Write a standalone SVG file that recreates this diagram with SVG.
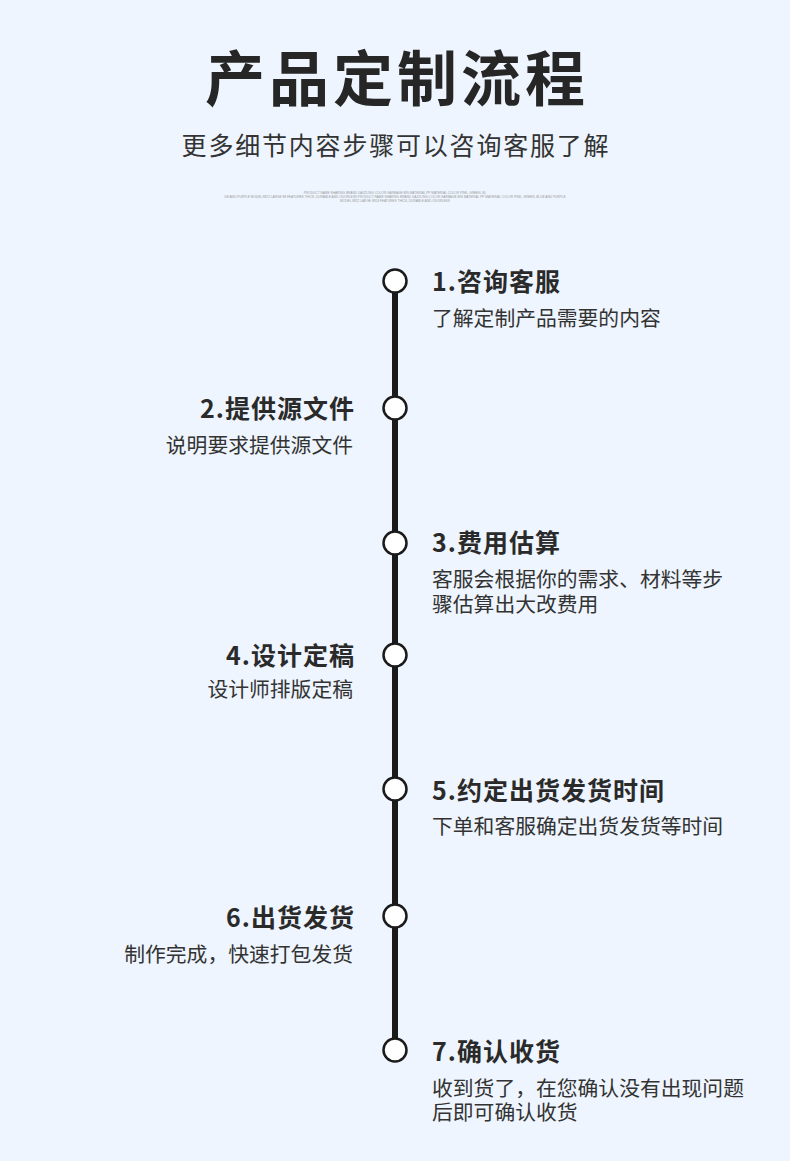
<svg xmlns="http://www.w3.org/2000/svg" width="790" height="1161" viewBox="0 0 790 1161">
<style>
.bg{fill:#eef5fe}
.title{font-family:"Noto Sans CJK SC","Noto Sans",sans-serif;font-weight:700;font-size:60px;fill:#262626;letter-spacing:4px}
.sub{font-family:"Noto Sans CJK SC","Noto Sans",sans-serif;font-size:25px;fill:#333;letter-spacing:1.8px}
.tiny{font-family:"Liberation Sans",sans-serif;font-size:3.2px;fill:#9a9a9a}
.h{font-family:"Noto Sans CJK SC","Noto Sans",sans-serif;font-weight:700;font-size:25px;fill:#2a2a2a;letter-spacing:1px}
.d{font-family:"Noto Sans CJK SC","Noto Sans",sans-serif;font-size:20.8px;fill:#333}
.r{text-anchor:end}
.dot{fill:#fff;stroke:#1a1a1a;stroke-width:2.5}
.line{stroke:#1a1a1a;stroke-width:6}
</style>
<rect class="bg" x="0" y="0" width="790" height="1161"/>
<g id="header">
<text class="title" x="397" y="101" text-anchor="middle">产品定制流程</text>
<text class="sub" x="396" y="155" text-anchor="middle">更多细节内容步骤可以咨询客服了解</text>
<text class="tiny" x="395" y="194" text-anchor="middle">PRODUCT NAME SHARING BRAND DAZZLING COLOR GARBAGE BIN MATERIAL PP MATERIAL COLOR PINK, GREEN, BL</text>
<text class="tiny" x="395" y="198" text-anchor="middle">UE AND PURPLE MODEL 8822 LARGE 88 FEATURES THICK, DURABLE AND ODORLESS PRODUCT NAME SHARING BRAND DAZZLING COLOR GARBAGE BIN MATERIAL PP MATERIAL COLOR PINK, GREEN, BLUE AND PURPLE</text>
<text class="tiny" x="395" y="202" text-anchor="middle">MODEL 8822 LARGE 8824 FEATURES THICK, DURABLE AND ODORLESS</text>
</g>
<g id="connectors">
<line class="line" x1="395" y1="281" x2="395" y2="1050"/>
</g>
<g id="step1">
<circle class="dot" cx="395" cy="281" r="11.5"/>
<text class="h" x="432" y="291">1.咨询客服</text>
<text class="d" x="432" y="326">了解定制产品需要的内容</text>
</g>
<g id="step2">
<circle class="dot" cx="395" cy="408" r="11.5"/>
<text class="h r" x="355" y="418">2.提供源文件</text>
<text class="d r" x="353" y="453">说明要求提供源文件</text>
</g>
<g id="step3">
<circle class="dot" cx="395" cy="543" r="11.5"/>
<text class="h" x="432" y="552">3.费用估算</text>
<text class="d" x="432" y="587">客服会根据你的需求、材料等步</text>
<text class="d" x="432" y="612">骤估算出大改费用</text>
</g>
<g id="step4">
<circle class="dot" cx="395" cy="655" r="11.5"/>
<text class="h r" x="355" y="665">4.设计定稿</text>
<text class="d r" x="353" y="697">设计师排版定稿</text>
</g>
<g id="step5">
<circle class="dot" cx="395" cy="789" r="11.5"/>
<text class="h" x="432" y="800">5.约定出货发货时间</text>
<text class="d" x="432" y="834">下单和客服确定出货发货等时间</text>
</g>
<g id="step6">
<circle class="dot" cx="395" cy="916" r="11.5"/>
<text class="h r" x="355" y="927">6.出货发货</text>
<text class="d r" x="353" y="962">制作完成，快速打包发货</text>
</g>
<g id="step7">
<circle class="dot" cx="395" cy="1050" r="11.5"/>
<text class="h" x="432" y="1061">7.确认收货</text>
<text class="d" x="432" y="1096">收到货了，在您确认没有出现问题</text>
<text class="d" x="432" y="1120">后即可确认收货</text>
</g>
</svg>
